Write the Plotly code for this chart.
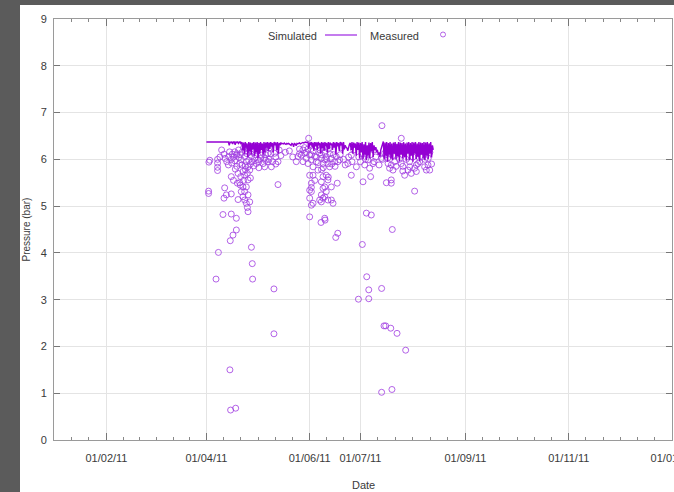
import pandas as pd
import plotly.graph_objects as go

# ---- data -------------------------------------------------------------
START = pd.Timestamp("2011-01-01")
END = pd.Timestamp("2012-01-01")

# simulated pressure, two values per day from day 90 (1 Apr 2011) onwards
sim_first_day = 90
sim_step_days = 0.5
sim_bar = [
    # 1 Apr - 13 Apr
    6.37, 6.37, 6.37, 6.37, 6.37, 6.37, 6.37, 6.37, 6.37, 6.37, 6.37, 6.37, 6.37,
    6.37, 6.37, 6.37, 6.37, 6.37, 6.37, 6.37, 6.37, 6.36, 6.37, 6.37, 6.37, 6.37,
    # 14 Apr - 21 Apr
    6.37, 6.30, 6.37, 6.36, 6.37, 6.33, 6.37, 6.37, 6.31, 6.37, 6.36, 6.37, 6.34, 6.37, 6.37, 6.32,
    # 22 Apr - 6 May
    6.37, 6.20, 6.36, 6.12, 6.37, 6.25, 6.34, 6.05, 6.37, 6.18, 6.36, 6.10, 6.35, 6.22, 6.37,
    6.08, 6.36, 6.15, 6.37, 6.03, 6.35, 6.12, 6.37, 6.20, 6.34, 6.10, 6.37, 6.15, 6.36, 6.25,
    # 7 May - 15 May
    6.37, 6.18, 6.36, 6.22, 6.37, 6.28, 6.35, 6.15, 6.37, 6.30, 6.36, 6.20, 6.37, 6.12, 6.35,
    6.30, 6.36, 6.33,
    # 16 May - 30 May
    6.34, 6.33, 6.35, 6.33, 6.32, 6.34, 6.33, 6.34, 6.33, 6.31, 6.30, 6.34, 6.33, 6.27, 6.34,
    6.33, 6.29, 6.34, 6.33, 6.34, 6.35, 6.33, 6.34, 6.35, 6.36, 6.35, 6.36, 6.37, 6.36, 6.37,
    # 31 May - 14 Jun
    6.37, 6.22, 6.36, 6.30, 6.37, 6.25, 6.36, 6.18, 6.37, 6.28, 6.36, 6.20, 6.37, 6.30, 6.35,
    6.12, 6.37, 6.24, 6.36, 6.18, 6.37, 6.28, 6.35, 6.15, 6.37, 6.22, 6.36, 6.30, 6.34, 6.20,
    # 15 Jun - 29 Jun
    6.37, 6.25, 6.36, 6.10, 6.37, 6.28, 6.35, 6.18, 6.37, 6.30, 6.36, 6.12, 6.37, 6.22, 6.30,
    6.26, 6.24, 6.18, 6.28, 6.32, 6.35, 6.20, 6.37, 6.12, 6.36, 6.25, 6.34, 6.08, 6.37, 6.20,
    # 30 Jun - 14 Jul
    6.36, 6.02, 6.35, 6.15, 6.37, 6.00, 6.32, 6.10, 6.37, 5.98, 6.30, 6.08, 6.36, 6.02, 6.35,
    6.18, 6.37, 6.05, 6.30, 6.20, 6.26, 6.15, 6.20, 6.10, 6.15, 6.05, 6.20, 6.28, 6.35, 6.38,
    # 15 Jul - 29 Jul
    6.00, 6.36, 6.08, 6.37, 5.95, 6.35, 6.10, 6.37, 6.02, 6.34, 5.98, 6.36, 6.12, 6.37, 6.00,
    6.33, 6.06, 6.37, 5.96, 6.36, 6.10, 6.35, 6.02, 6.37, 6.05, 6.34, 5.97, 6.36, 6.12, 6.37,
    # 30 Jul - 13 Aug
    5.98, 6.35, 6.08, 6.37, 5.95, 6.36, 6.12, 6.37, 6.00, 6.34, 6.05, 6.37, 5.96, 6.36, 6.10,
    6.35, 6.02, 6.37, 5.98, 6.36, 6.08, 6.37, 6.00, 6.34, 6.12, 6.37, 6.04, 6.30, 6.20,
]

# measured pressure: day of year (from 1 Jan 2011) and value in bar
meas_day = [
    # April - May
    91.5, 96.6, 96.6, 96.6, 96.6, 100.4, 103.7, 103.2, 104.7, 105.3, 106.7, 107.7,
    106.7, 109.1, 109.7, 110.6, 112.6, 113.6, 114.6, 116.6, 117.0, 118.5, 119.5, 120.5,
    122.5, 123.5, 124.4, 124.4, 126.4, 126.4, 128.4, 130.3, 132.3, 104.7, 107.1, 108.7,
    110.3, 111.6, 112.6, 114.2, 114.6, 115.6, 108.3, 109.7, 111.6, 112.6, 114.6, 113.6,
    110.6, 108.7, 112.6, 115.6, 111.6, 100.8, 100.4, 101.8, 104.7, 114.2, 114.6, 113.6,
    91.3, 91.3, 132.3, 99.8, 104.7, 107.7, 107.7, 105.7, 104.1, 116.6, 97.1, 117.1,
    95.7, 117.3, 129.9, 129.9, 103.9, 104.3, 107.3,
    99, 101, 102, 103, 105, 106, 108, 108, 109, 110, 111, 111, 113, 113, 114, 115,
    115, 116, 117, 118, 119, 120, 121, 121, 122, 123, 124, 125, 125, 127, 128, 129,
    131, 131, 134, 110, 112, 116, 113, 106,
    # June
    150.4, 136.6, 143.1, 144.1, 146.1, 147.1, 148.0, 149.0, 150.0, 151.0, 152.0, 153.0,
    154.0, 154.9, 155.9, 156.9, 157.9, 158.9, 159.9, 160.8, 161.8, 162.8, 163.8, 165.8,
    166.7, 167.7, 168.7, 173.6, 175.6, 178.6, 151.0, 153.0, 152.0, 151.0, 152.0, 157.9,
    158.9, 160.8, 161.8, 158.9, 159.9, 163.8, 167.3, 175.6, 157.9, 158.9, 159.9, 156.9,
    157.9, 161.8, 163.8, 160.8, 151.0, 152.0, 153.0, 164.8, 151.0, 159.9, 157.7, 160.1,
    167.6, 166.4,
    145, 147, 149, 150, 152, 153, 155, 156, 157, 158, 159, 160, 161, 163, 164, 165,
    166, 169, 171, 172, 174, 176, 152, 154, 158, 162,
    # July - August
    193.7, 205.1, 183.5, 185.4, 188.4, 186.4, 193.3, 195.3, 197.3, 198.2, 199.2, 200.2,
    201.2, 205.1, 207.1, 209.1, 210.1, 211.0, 213.0, 214.0, 215.0, 218.9, 219.9, 220.9,
    221.9, 199.2, 196.3, 199.2, 182.5, 187.0, 213.0, 184.5, 187.4, 199.8, 182.1, 184.7,
    185.9, 193.5, 179.8, 185.9, 194.9, 195.9, 198.9, 202.6, 207.7, 193.5, 199.6,
    180, 181, 182, 184, 187, 189, 190, 192, 194, 196, 197, 200, 202, 204, 206, 208,
    210, 212, 214, 216, 217, 219, 221, 223, 206,
    # readings close to the simulated level
    112, 118, 121, 127, 133, 145, 148, 155, 162, 170, 177, 189,
    203, 208, 216, 222, 98, 92, 139, 141,
]
meas_bar = [
    # April - May
    5.94, 6.00, 5.92, 5.83, 5.76, 6.11, 6.16, 6.06, 6.00, 6.11, 6.16, 6.09,
    5.97, 6.04, 5.91, 5.99, 6.06, 5.95, 5.84, 6.06, 5.95, 6.02, 5.91, 5.99,
    6.09, 5.91, 5.84, 6.02, 6.13, 5.95, 5.84, 6.13, 5.95, 5.63, 5.79, 5.70,
    5.63, 5.74, 5.66, 5.70, 5.56, 5.77, 5.49, 5.50, 5.41, 5.31, 5.24, 5.41,
    5.31, 5.14, 5.13, 5.09, 5.20, 5.39, 5.17, 5.24, 5.26, 4.97, 4.88, 5.06,
    5.32, 5.27, 5.46, 4.82, 4.83, 4.74, 4.49, 4.38, 4.26, 4.12, 4.01, 3.77,
    3.44, 3.44, 3.23, 2.27, 1.50, 0.64, 0.68,
    6.20, 6.02, 5.95, 5.88, 5.92, 6.05, 6.12, 5.85, 6.20, 6.10, 5.88, 6.15, 6.18, 5.78, 6.12, 5.98,
    6.22, 5.90, 6.15, 5.86, 6.10, 6.18, 5.95, 5.82, 6.02, 6.15, 6.25, 5.98, 6.10, 6.00, 6.12, 5.95,
    6.05, 5.90, 6.08, 5.45, 5.55, 5.60, 5.86, 5.55,
    # June
    6.45, 6.15, 5.95, 6.06, 6.09, 5.95, 6.13, 6.02, 5.91, 6.09, 5.99, 5.84,
    6.06, 5.95, 5.77, 6.13, 6.02, 5.91, 5.99, 6.06, 5.91, 5.84, 6.02, 5.95,
    6.06, 5.95, 5.99, 5.91, 6.09, 5.84, 5.66, 5.66, 5.49, 5.34, 5.31, 5.52,
    5.63, 5.66, 5.56, 5.38, 5.41, 5.41, 5.49, 5.66, 5.24, 5.17, 5.20, 5.13,
    5.09, 5.13, 5.13, 5.31, 5.17, 5.02, 5.06, 5.06, 4.77, 4.74, 4.65, 4.70,
    4.42, 4.33,
    6.12, 6.20, 6.15, 6.22, 6.10, 6.18, 6.05, 5.93, 6.20, 6.10, 5.82, 6.15, 6.00, 6.12, 5.90, 6.10,
    5.85, 6.10, 6.00, 5.88, 6.05, 5.95, 5.40, 5.55, 5.78, 5.62,
    # July - August
    6.72, 6.45, 5.88, 5.99, 5.91, 5.81, 6.02, 6.13, 5.91, 5.81, 5.88, 5.77,
    5.95, 5.91, 5.66, 5.77, 5.84, 5.70, 5.81, 5.74, 5.91, 5.84, 5.77, 5.88,
    5.77, 5.56, 5.50, 5.49, 5.52, 5.63, 5.32, 4.85, 4.81, 4.50, 4.18, 3.49,
    3.21, 3.24, 3.01, 3.02, 2.44, 2.44, 2.39, 2.28, 1.92, 1.02, 1.08,
    6.05, 5.95, 6.12, 6.00, 6.10, 5.95, 6.05, 5.88, 6.00, 6.10, 6.02, 6.08, 5.85, 6.00, 5.85, 6.00,
    5.95, 6.05, 5.88, 5.95, 6.05, 6.00, 6.02, 5.90, 5.75,
    # readings close to the simulated level
    6.25, 6.22, 6.28, 6.24, 6.20, 6.22, 6.25, 6.28, 6.22, 6.25, 6.20, 6.20,
    6.25, 6.22, 6.18, 6.15, 6.05, 5.98, 6.18, 6.05,
]

# axis ticks
x_tick_dates = ["2011-02-01", "2011-04-01", "2011-06-01", "2011-07-01",
                "2011-09-01", "2011-11-01", "2012-01-01"]
x_tick_text = ["01/02/11", "01/04/11", "01/06/11", "01/07/11",
               "01/09/11", "01/11/11", "01/01/12"]
y_ticks = [0, 1, 2, 3, 4, 5, 6, 7, 8, 9]

# ---- derived series ---------------------------------------------------
sim_x = [START + pd.Timedelta(days=sim_first_day + i * sim_step_days)
         for i in range(len(sim_bar))]
meas_x = [START + pd.Timedelta(days=d) for d in meas_day]

major = [pd.Timestamp(d) for d in x_tick_dates]
minor = []
edges = [START - pd.Timedelta(days=31)] + major
for a, b in zip(edges[:-1], edges[1:]):
    n = max(1, round((b - a).days / 10))
    for k in range(1, n):
        minor.append(a + (b - a) * k / n)
minor = [m for m in minor if m > START]

# ---- figure ------------------------------------------------------------
W, H = 674, 492
L, R, T, B = 54, 2, 19, 52
pw, ph = W - L - R, H - T - B


def px(x):
    return (x - L) / pw


def py(y):
    return (H - B - y) / ph


PURPLE = "#9400d3"
MARK = "rgba(160,60,225,0.8)"
AXIS_GREY = "#9a9a9a"
GRID = "#e4e4e4"
TXT = "#3a3a3a"
FONT = "Liberation Sans, Arial, sans-serif"

fig = go.Figure()
fig.add_trace(go.Scatter(
    x=meas_x, y=meas_bar, mode="markers", name="Measured",
    marker=dict(symbol="circle-open", size=6, color=MARK, line=dict(width=1)),
    showlegend=False,
))
fig.add_trace(go.Scatter(
    x=sim_x, y=sim_bar, mode="lines", name="Simulated",
    line=dict(color=PURPLE, width=1.4), showlegend=False,
))

# white page on the dark surround
fig.add_shape(type="rect", xref="paper", yref="paper", layer="below",
              x0=px(20), x1=px(W + 5), y0=py(H + 5), y1=py(5),
              fillcolor="white", line=dict(width=0))

# key: text on the left, sample on the right
fig.add_annotation(xref="paper", yref="paper", x=px(319), y=py(36),
                   xanchor="right", yanchor="middle", showarrow=False,
                   text="Simulated", font=dict(family=FONT, size=11, color=TXT))
fig.add_shape(type="line", xref="paper", yref="paper",
              x0=px(325), x1=px(357), y0=py(35), y1=py(35),
              line=dict(color="#b050e8", width=1.5))
fig.add_annotation(xref="paper", yref="paper", x=px(421), y=py(36),
                   xanchor="right", yanchor="middle", showarrow=False,
                   text="Measured", font=dict(family=FONT, size=11, color=TXT))
fig.add_shape(type="circle", xref="paper", yref="paper",
              x0=px(440.5), x1=px(445.5), y0=py(37), y1=py(32),
              line=dict(color=MARK, width=1))

# axis titles
fig.add_annotation(xref="paper", yref="paper", x=0.5, y=py(485),
                   xanchor="center", yanchor="middle", showarrow=False,
                   text="Date", font=dict(family=FONT, size=11, color=TXT))
fig.add_annotation(xref="paper", yref="paper", x=px(26), y=0.5,
                   xanchor="center", yanchor="middle", showarrow=False, textangle=-90,
                   text="Pressure (bar)", font=dict(family=FONT, size=10, color=TXT))

fig.update_layout(
    width=W, height=H,
    margin=dict(l=L, r=R, t=T, b=B, autoexpand=False),
    paper_bgcolor="#5b5b5b", plot_bgcolor="white",
    font=dict(family=FONT, size=11, color=TXT),
    showlegend=False,
)
fig.update_xaxes(
    range=[START, END],
    tickmode="array", tickvals=major, ticktext=x_tick_text,
    ticks="inside", ticklen=7, tickcolor="#777", tickwidth=1,
    showline=True, linecolor=AXIS_GREY, linewidth=1, mirror="ticks",
    showgrid=True, gridcolor=GRID, gridwidth=1, zeroline=False,
    minor=dict(tickmode="array", tickvals=minor, ticks="inside", ticklen=3,
               tickcolor="#888", showgrid=False),
    ticklabelstandoff=8, ticklabeloverflow="allow", automargin=False,
    tickfont=dict(family=FONT, size=11, color=TXT),
)
fig.update_yaxes(
    range=[0, 9], tickmode="array", tickvals=y_ticks,
    ticks="inside", ticklen=6, tickcolor="#777", tickwidth=1,
    showline=True, linecolor=AXIS_GREY, linewidth=1, mirror="ticks",
    showgrid=True, gridcolor=GRID, gridwidth=1, zeroline=False,
    ticklabelstandoff=4, automargin=False,
    tickfont=dict(family=FONT, size=11, color=TXT),
)

fig.write_html("out.html")
